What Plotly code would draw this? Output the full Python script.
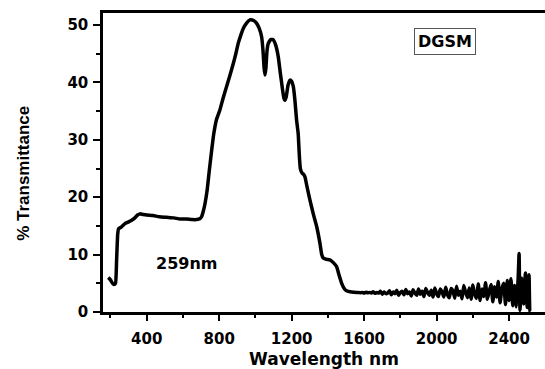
import plotly.graph_objects as go

# Wavelength (nm) and % transmittance
wavelength = [
    188, 200, 212, 219, 228, 234, 240, 245, 260, 280, 300, 317, 335, 350, 363, 380,
    400, 435, 470, 510, 550, 584, 620, 650, 676, 695, 703, 712, 722, 734, 745, 758,
    770, 785, 804, 822, 841, 860, 878, 892, 905, 920, 933, 950, 970, 990, 1007, 1020,
    1034, 1042, 1048, 1053, 1058, 1064, 1071, 1085, 1099, 1112, 1126, 1138, 1150, 1157,
    1163, 1170, 1180, 1191, 1200, 1209, 1218, 1227, 1236, 1242, 1248, 1258, 1266, 1273,
    1287, 1301, 1320, 1338, 1356, 1366, 1374, 1390, 1411, 1430, 1448, 1462, 1476, 1490,
    1503, 1530, 1559,
    1570, 1580, 1590, 1600, 1610, 1620, 1630, 1640, 1650, 1660, 1670, 1680, 1690, 1700,
    1710, 1720, 1730, 1740, 1750, 1760, 1770, 1780, 1790, 1800, 1810, 1820, 1830, 1840,
    1850, 1860, 1870, 1880, 1890, 1900, 1910, 1920, 1930, 1940, 1950, 1960, 1970, 1980,
    1990, 2000, 2010, 2020, 2030, 2040, 2050, 2060, 2070, 2080, 2090, 2100, 2110, 2120,
    2130, 2140, 2150, 2160, 2170, 2180, 2190, 2200, 2210, 2220, 2230, 2240, 2250, 2260,
    2270, 2280, 2290, 2300, 2310, 2320, 2330, 2340, 2350, 2360, 2370, 2380, 2390, 2400,
    2410, 2420, 2430, 2440, 2450, 2455, 2460, 2470, 2480, 2490, 2500, 2510, 2515, 2519,
]
transmittance = [
    6.0, 5.6, 5.0, 4.8, 5.0, 9.0, 13.5, 14.5, 14.8, 15.4, 15.7, 16.0, 16.4, 16.9, 17.1, 17.0,
    16.9, 16.8, 16.6, 16.5, 16.4, 16.2, 16.2, 16.1, 16.1, 16.3, 16.6, 17.5, 18.9, 21.3, 24.5, 28.0,
    31.0, 33.5, 35.2, 37.3, 39.3, 41.3, 43.3, 45.0, 46.8, 48.3, 49.4, 50.3, 50.9, 50.8, 50.3, 49.5,
    48.0, 45.5, 42.5, 41.3, 42.5, 45.5, 46.8, 47.5, 47.4, 46.5, 44.5, 41.5, 38.7, 37.3,
    36.9, 37.5, 39.5, 40.4, 40.2, 39.3, 36.9, 33.5, 31.1, 27.5, 25.0, 24.2, 24.0, 23.6,
    21.5, 19.5, 17.0, 14.9, 12.0, 10.0, 9.4, 9.2, 9.1, 8.6, 7.9, 6.4, 5.0, 4.1,
    3.7, 3.5, 3.4,
    3.4, 3.35, 3.4, 3.3, 3.45, 3.35, 3.4, 3.3, 3.55, 3.25, 3.4, 3.3, 3.6, 3.1,
    3.5, 3.2, 3.3, 3.7, 3.0, 3.5, 3.2, 3.8, 2.9, 3.4, 3.6, 3.0, 3.9, 3.2,
    3.5, 2.8, 3.9, 3.3, 2.9, 4.0, 3.1, 3.6, 2.7, 4.1, 3.4, 2.9, 3.8, 2.6,
    4.2, 3.2, 2.7, 4.0, 3.5, 2.6, 4.3, 3.0, 2.5, 4.1, 3.7, 2.4, 4.5, 2.9,
    3.6, 2.3, 4.6, 3.4, 2.5, 4.2, 2.2, 4.7, 3.1, 2.4, 4.9, 2.0, 4.0, 2.7,
    5.1, 2.2, 3.6, 4.8, 1.8, 4.4, 2.6, 5.3, 1.6, 4.0, 5.0, 1.3, 5.5, 2.0,
    5.8, 1.1, 4.6, 0.9, 6.0, 10.2, 0.3, 5.9, 1.4, 6.8, 0.8, 6.5, 0.2, 0.1,
]

x_ticks = [400, 800, 1200, 1600, 2000, 2400]
y_ticks = [0, 10, 20, 30, 40, 50]

tick_font = dict(family="DejaVu Sans", size=15, color="black", weight="bold")

fig = go.Figure()
fig.add_trace(go.Scatter(
    x=wavelength, y=transmittance, mode="lines",
    line=dict(color="black", width=3.5, shape="spline", smoothing=0.4),
    showlegend=False, hoverinfo="skip",
))

fig.update_layout(
    width=545, height=369,
    margin=dict(l=103, r=0, t=13, b=57),
    paper_bgcolor="white", plot_bgcolor="white",
    xaxis=dict(
        range=[159, 2598], tickvals=x_ticks, ticktext=[str(v) for v in x_ticks],
        showgrid=False, zeroline=False, showline=True, linecolor="black", linewidth=2.5,
        mirror=True, ticks="outside", ticklen=6, tickwidth=2, tickcolor="black",
        minor=dict(tickvals=[200, 600, 1000, 1400, 1800, 2200, 2600], ticks="outside",
                   ticklen=3, tickwidth=2, tickcolor="black"),
        tickfont=tick_font, ticklabelstandoff=5,
        title=dict(text="Wavelength nm", standoff=10,
                   font=dict(family="DejaVu Sans", size=17, color="black", weight="bold")),
    ),
    yaxis=dict(
        range=[0, 52.1], tickvals=y_ticks, ticktext=[str(v) for v in y_ticks],
        showgrid=False, zeroline=False, showline=True, linecolor="black", linewidth=2.5,
        ticks="outside", ticklen=7, tickwidth=2, tickcolor="black",
        minor=dict(tickvals=[5, 15, 25, 35, 45], ticks="outside",
                   ticklen=4, tickwidth=2, tickcolor="black"),
        tickfont=tick_font, ticklabelstandoff=2,
    ),
    annotations=[
        dict(x=-0.179, y=0.465, xref="paper", yref="paper", text="% Transmittance",
             textangle=-90, showarrow=False, xanchor="center", yanchor="middle",
             font=dict(family="Liberation Sans", size=17, color="black", weight="bold")),
        dict(x=2047, y=47.1, xref="x", yref="y", text="DGSM", showarrow=False,
             font=dict(family="DejaVu Sans", size=16, color="black", weight="bold"),
             bordercolor="#555555", borderwidth=1, borderpad=3, bgcolor="white"),
        dict(x=622, y=8.4, xref="x", yref="y", text="259nm", showarrow=False,
             font=dict(family="DejaVu Sans", size=16, color="black", weight="bold")),
    ],
)

fig.write_html("out.html")
